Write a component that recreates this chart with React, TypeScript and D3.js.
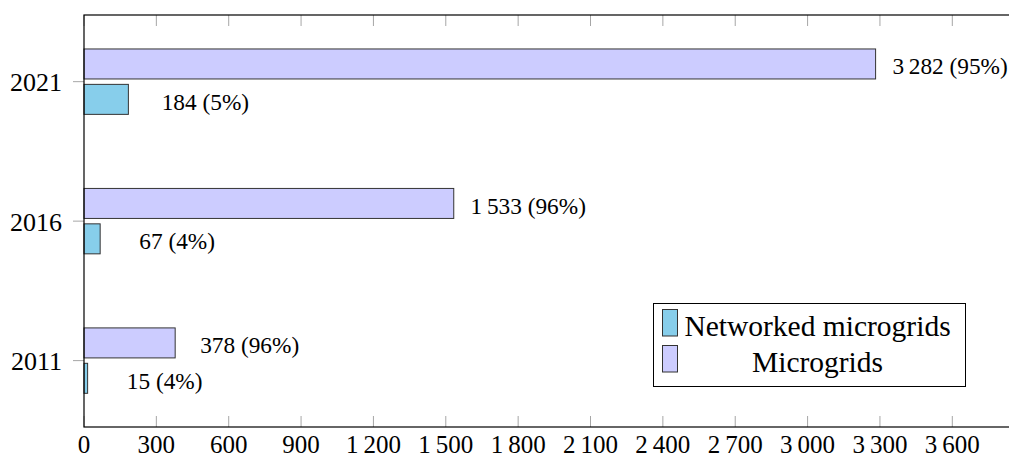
import React from "react";
import * as d3 from "d3";

const years = [2011, 2016, 2021];
const microgrids = [378, 1533, 3282];
const microgridsPct = [96, 96, 95];
const networked = [15, 67, 184];
const networkedPct = [4, 4, 5];
const xTicks = [0, 300, 600, 900, 1200, 1500, 1800, 2100, 2400, 2700, 3000, 3300, 3600];
const seriesNames = ["Networked microgrids", "Microgrids"];
const seriesColors = ["#87ceeb", "#ccccff"];

const W = 1009;
const H = 457;
const FONT = "'Liberation Serif', 'Times New Roman', serif";

const fmt = (v: number) => {
  const s = String(v);
  if (v < 1000) return s;
  return s.slice(0, s.length - 3) + "\u2009" + s.slice(s.length - 3);
};

export default function App() {
  const xMax = 3860;
  const x = d3.scaleLinear().domain([0, 3600]).range([84, 952.3]);
  const y = d3.scaleLinear().domain([2008.62, 2023.39]).range([427, 15]);
  const barH = 30;
  const off = 17.7;
  const left = x(0);
  const right = x(xMax);
  const top = y(2023.39);
  const bottom = y(2008.62);

  return (
    <svg width={W} height={H} style={{ position: "absolute", left: 0, top: 0 }} fontFamily={FONT}>
      <rect x={0} y={0} width={W} height={H} fill="white" />
      {xTicks.map((t) => (
        <g key={"xt" + t}>
          <line x1={x(t)} x2={x(t)} y1={bottom} y2={bottom - 11} stroke="#a6a6a6" strokeWidth={1} />
          <line x1={x(t)} x2={x(t)} y1={top} y2={top + 11} stroke="#a6a6a6" strokeWidth={1} />
          <text x={x(t)} y={453} fontSize={25} textAnchor="middle" fill="black">
            {fmt(t)}
          </text>
        </g>
      ))}
      {years.map((yr) => (
        <g key={"yt" + yr}>
          <line x1={left - 11} x2={left} y1={y(yr)} y2={y(yr)} stroke="#a6a6a6" strokeWidth={1} />
          <text x={62} y={y(yr) + 9.5} fontSize={26} textAnchor="end" fill="black">
            {yr}
          </text>
        </g>
      ))}
      {years.map((yr, i) => {
        const cm = y(yr) - off;
        const cn = y(yr) + off;
        return (
          <g key={"b" + yr}>
            <rect x={left} y={cm - barH / 2} width={x(microgrids[i]) - left} height={barH} fill={seriesColors[1]} stroke="#333" strokeWidth={1} />
            <rect x={left} y={cn - barH / 2} width={x(networked[i]) - left} height={barH} fill={seriesColors[0]} stroke="#333" strokeWidth={1} />
            <text x={x(microgrids[i]) + 74.5} y={cm + 10.3} fontSize={23.3} textAnchor="middle" fill="black">
              {fmt(microgrids[i]) + " (" + microgridsPct[i] + "%)"}
            </text>
            <text x={x(networked[i]) + 77} y={cn + 10.3} fontSize={23.3} textAnchor="middle" fill="black">
              {fmt(networked[i]) + " (" + networkedPct[i] + "%)"}
            </text>
          </g>
        );
      })}
      <rect x={left} y={top} width={right - left} height={bottom - top} fill="none" stroke="black" strokeWidth={1.2} />
      <g>
        <rect x={653.5} y={303.5} width={312} height={83} fill="white" stroke="black" strokeWidth={1} />
        {seriesNames.map((n, i) => (
          <g key={n}>
            <rect x={662.5} y={309.5 + i * 36} width={15} height={26.5} fill={seriesColors[i]} stroke="#333" strokeWidth={1} />
            <text x={817.5} y={335.5 + i * 36} fontSize={29.5} textAnchor="middle" fill="black">
              {n}
            </text>
          </g>
        ))}
      </g>
    </svg>
  );
}
